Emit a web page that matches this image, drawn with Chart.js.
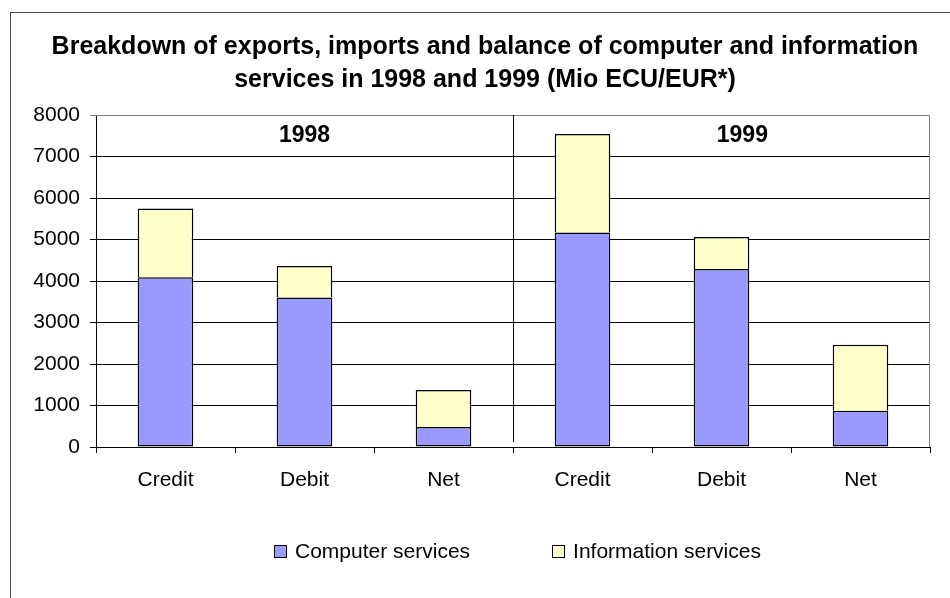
<!DOCTYPE html>
<html>
<head>
<meta charset="utf-8">
<script src="https://cdn.jsdelivr.net/npm/chart.js@4/dist/chart.umd.min.js"></script>
<style>
  body { margin: 0; background: #fff; overflow: hidden; font-family: "Liberation Sans", Arial, sans-serif; }
  #wrap { position: relative; width: 950px; height: 598px; overflow: hidden; }
  #servicesChart { position: absolute; left: 0; top: 0; }
  #frame { position: absolute; left: 10px; top: 12px; width: 960px; height: 620px;
           border-left: 1px solid #444; border-top: 1px solid #444; pointer-events: none; }
  #legend { position: absolute; top: 540px; left: 274px; display: flex; gap: 82px;
            font-size: 21px; color: #000; line-height: 22px; }
  #legend .item { display: flex; align-items: center; }
  #legend .box { width: 11px; height: 11px; border: 1px solid #000; margin-right: 8px; }
</style>
</head>
<body>
<div id="wrap">
  <canvas id="servicesChart" width="970" height="598"></canvas>
  <div id="frame"></div>
  <div id="legend"></div>
</div>
<script>
// categories and values (Mio ECU/EUR)
const categories = ['Credit', 'Debit', 'Net', 'Credit', 'Debit', 'Net'];
const computerServices = [4090, 3600, 480, 5170, 4290, 875];
const informationServices = [1660, 760, 895, 2370, 770, 1590];
const yearLabels = ['1998', '1999'];
const yearLabelPos = [1, 4.15];   // category position of the year labels
const yearLabelValue = 7500;
const yTicks = [0, 1000, 2000, 3000, 4000, 5000, 6000, 7000, 8000];

// draws the divider between the two years, the year labels and the plot frame
const yearPlugin = {
    id: 'yearPlugin',
    afterDatasetsDraw(chart) {
        const {ctx, chartArea, scales: {x, y}} = chart;
        ctx.save();
        // gray frame on top and right of the plot area
        ctx.strokeStyle = '#808080';
        ctx.lineWidth = 1;
        ctx.beginPath();
        ctx.moveTo(chartArea.left, chartArea.top + 0.5);
        ctx.lineTo(chartArea.right - 0.5, chartArea.top + 0.5);
        ctx.lineTo(chartArea.right - 0.5, chartArea.bottom);
        ctx.stroke();
        // divider
        const dx = Math.round(x.getPixelForValue(2.5)) + 0.5;
        ctx.strokeStyle = '#000';
        ctx.beginPath();
        ctx.moveTo(dx, chartArea.top);
        ctx.lineTo(dx, chartArea.bottom - 5);
        ctx.stroke();
        // year labels
        ctx.fillStyle = '#000';
        ctx.font = 'bold 23px "Liberation Sans", Arial, sans-serif';
        ctx.textAlign = 'center';
        ctx.textBaseline = 'middle';
        yearLabels.forEach((label, i) => {
            ctx.fillText(label, x.getPixelForValue(yearLabelPos[i]), y.getPixelForValue(yearLabelValue));
        });
        ctx.restore();
    }
};

document.addEventListener('DOMContentLoaded', () => {
    const ctx = document.querySelector('#servicesChart').getContext('2d');

    const chart = new Chart(ctx, {
        type: 'bar',
        data: {
            labels: categories,
            datasets: [{
                label: 'Computer services',
                data: computerServices,
                backgroundColor: '#9999FF',
                borderColor: '#000',
                borderWidth: 1.5,
                borderSkipped: false
            }, {
                label: 'Information services',
                data: informationServices,
                backgroundColor: '#FFFFCC',
                borderColor: '#000',
                borderWidth: 1.5,
                borderSkipped: 'bottom'
            }]
        },
        options: {
            responsive: false,
            animation: false,
            events: [],
            datasets: {
                bar: { barPercentage: 0.4, categoryPercentage: 1 }
            },
            layout: { padding: 0 },
            plugins: {
                legend: { display: false },
                tooltip: { enabled: false },
                title: {
                    display: true,
                    text: ['Breakdown of exports, imports and balance of computer and information',
                           'services in 1998 and 1999 (Mio ECU/EUR*)'],
                    color: '#000',
                    font: { family: '"Liberation Sans", Arial, sans-serif', size: 25, weight: 'bold', lineHeight: 1.3 },
                    padding: { top: 31, bottom: 19 }
                }
            },
            scales: {
                x: {
                    stacked: true,
                    afterFit(scale) { scale.height = 151; },
                    grid: { display: true, drawOnChartArea: false, tickLength: 6, color: '#000', offset: true },
                    border: { color: '#000' },
                    ticks: {
                        color: '#000',
                        padding: 15,
                        font: { family: '"Liberation Sans", Arial, sans-serif', size: 21 }
                    }
                },
                y: {
                    stacked: true,
                    min: 0,
                    max: 8000,
                    afterFit(scale) { scale.width = 96; },
                    afterBuildTicks(scale) { scale.ticks = yTicks.map(v => ({ value: v })); },
                    grid: {
                        color: ctx => ctx.tick && ctx.tick.value === 8000 ? '#808080' : '#000',
                        tickLength: 6
                    },
                    border: { color: '#000' },
                    ticks: {
                        color: '#000',
                        padding: 10,
                        callback: v => String(v),
                        font: { family: '"Liberation Sans", Arial, sans-serif', size: 21 }
                    }
                },
                // empty right-hand space so the plot ends where the reference does
                yRight: {
                    position: 'right',
                    afterFit(scale) { scale.width = 40; },
                    grid: { display: false },
                    border: { display: false },
                    ticks: { display: false }
                }
            }
        },
        plugins: [yearPlugin]
    });

    // legend built from the datasets
    const legend = document.querySelector('#legend');
    chart.data.datasets.forEach(ds => {
        const item = document.createElement('div');
        item.className = 'item';
        item.innerHTML = `<span class="box" style="background:${ds.backgroundColor}"></span><span>${ds.label}</span>`;
        legend.append(item);
    });
});
</script>
</body>
</html>
